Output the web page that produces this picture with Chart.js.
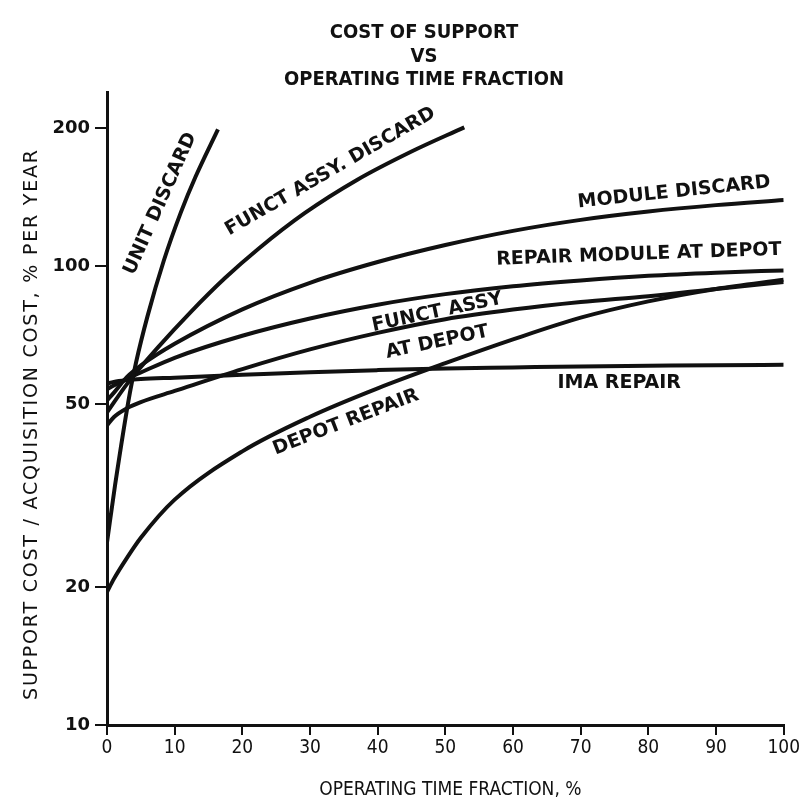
<!DOCTYPE html>
<html>
<head>
<meta charset="utf-8">
<title>Cost of Support vs Operating Time Fraction</title>
<script src="https://cdn.jsdelivr.net/npm/chart.js@4.4.0/dist/chart.umd.min.js"></script>
<style>
  html, body { margin: 0; padding: 0; background: #fff; }
  #wrap { width: 802px; height: 808px; }
</style>
</head>
<body>
<div id="wrap"><canvas id="supportChart" width="802" height="808"></canvas></div>
<script>
// operating time fraction (%) shared by the long curves
const opTime = [0, 1, 3, 5, 10, 20, 30, 40, 50, 60, 70, 80, 90, 100];

const moduleDiscard  = [51, 53, 57.5, 60.8, 67.8, 80.6, 92.1, 102.2, 111.3, 119.5, 126.3, 131.7, 136, 139.5];
const repairModule   = [54, 55, 56.9, 58.7, 63.2, 70.6, 77, 82.5, 87, 90.5, 93.2, 95.4, 96.9, 98];
const functAssyDepot = [45, 46.9, 49.1, 50.6, 53.5, 59.7, 65.9, 71.6, 76.7, 80.5, 83.6, 86.1, 89.3, 92.5];
const imaRepair      = [55.5, 56, 56.5, 56.8, 57.2, 58, 58.8, 59.4, 59.9, 60.2, 60.5, 60.7, 60.9, 61];
const depotRepair    = [19.5, 20.8, 23.2, 25.6, 31, 39.5, 47, 54.2, 61.5, 69.3, 77.3, 83.9, 89.3, 93.5];

// the two discard curves stop early, so they get their own x values
const unitDiscardX  = [0, 1.2, 3.4, 4.3, 6, 8.4, 10.9, 13.1, 16.4];
const unitDiscard   = [25, 33.4, 53.2, 61.8, 78, 103, 131, 157, 199];
const functDiscardX = [0, 3, 7.5, 12.4, 17.4, 22.3, 29.2, 37, 45, 52.8];
const functDiscard  = [48, 55.5, 66.5, 79.6, 94.2, 109, 130.6, 154.5, 178, 201];

const yTicks = [10, 20, 50, 100, 200];

// text written along the curves (anchored in data units)
const curveLabels = [
  { text: 'UNIT DISCARD', x: 7.9, y: 137, angle: -66 },
  { text: 'FUNCT ASSY. DISCARD', x: 33, y: 161, angle: -30 },
  { text: 'MODULE DISCARD', x: 83.8, y: 145, angle: -6 },
  { text: 'REPAIR MODULE AT DEPOT', x: 78.6, y: 106, angle: -2 },
  { text: 'FUNCT ASSY', x: 48.8, y: 79.4, angle: -12 },
  { text: 'AT DEPOT', x: 48.8, y: 68.3, angle: -12 },
  { text: 'IMA REPAIR', x: 75.7, y: 55.6, angle: 0 },
  { text: 'DEPOT REPAIR', x: 35.3, y: 45.7, angle: -21 }
];

const titleLines = ['COST OF SUPPORT', 'VS', 'OPERATING TIME FRACTION'];
const xTitle = 'OPERATING TIME FRACTION, %';
const yTitle = 'SUPPORT COST / ACQUISITION COST, % PER YEAR';

function pts(xs, ys) {
  return xs.map((x, i) => ({ x: x, y: ys[i] }));
}

function curve(label, xs, ys) {
  return {
    label: label,
    data: pts(xs, ys),
    borderColor: '#111',
    borderWidth: 4,
    pointRadius: 0,
    fill: false,
    cubicInterpolationMode: 'monotone'
  };
}

// spread a string so it fills a given length
function spacedText(ctx, text, x, y, length) {
  ctx.letterSpacing = '0px';
  const w = ctx.measureText(text).width;
  const gap = Math.max(0, (length - w) / (text.length - 1));
  ctx.letterSpacing = gap.toFixed(2) + 'px';
  ctx.fillText(text, x + gap / 2, y);
  ctx.letterSpacing = '0px';
}

const textPlugin = {
  id: 'textPlugin',
  afterDraw(chart) {
    const ctx = chart.ctx;
    const xs = chart.scales.x;
    const ys = chart.scales.y;
    const area = chart.chartArea;
    ctx.save();
    ctx.fillStyle = '#111';
    ctx.textAlign = 'center';
    ctx.textBaseline = 'middle';

    ctx.font = "bold 20px 'DejaVu Sans Condensed', 'DejaVu Sans'";
    titleLines.forEach((t, i) => ctx.fillText(t, 424, 33 + i * 23.5));

    ctx.font = "19px 'DejaVu Sans Condensed', 'DejaVu Sans'";
    ctx.fillText(xTitle, (area.left + area.right) / 2 + 5, 790);

    ctx.save();
    ctx.translate(32, 425);
    ctx.rotate(-Math.PI / 2);
    ctx.font = "19px 'DejaVu Sans'";
    spacedText(ctx, yTitle, 0, 0, 550);
    ctx.restore();

    ctx.font = "bold 19px 'DejaVu Sans'";
    curveLabels.forEach(l => {
      ctx.save();
      ctx.translate(xs.getPixelForValue(l.x), ys.getPixelForValue(l.y));
      ctx.rotate(l.angle * Math.PI / 180);
      ctx.fillText(l.text, 0, 0);
      ctx.restore();
    });
    ctx.restore();
  }
};

const chart = new Chart(document.getElementById('supportChart').getContext('2d'), {
  type: 'line',
  data: {
    datasets: [
      curve('Unit discard', unitDiscardX, unitDiscard),
      curve('Funct assy discard', functDiscardX, functDiscard),
      curve('Module discard', opTime, moduleDiscard),
      curve('Repair module at depot', opTime, repairModule),
      curve('Funct assy at depot', opTime, functAssyDepot),
      curve('IMA repair', opTime, imaRepair),
      curve('Depot repair', opTime, depotRepair)
    ]
  },
  options: {
    responsive: false,
    animation: false,
    layout: { padding: { top: 92, right: 17, bottom: 0, left: 0 } },
    plugins: {
      legend: { display: false },
      tooltip: { enabled: false },
      title: { display: false }
    },
    scales: {
      x: {
        type: 'linear',
        min: 0,
        max: 100,
        afterFit: s => { s.height = 83; },
        border: { display: true, color: '#111', width: 3 },
        grid: { drawOnChartArea: false, color: '#111', lineWidth: 2, tickLength: 10 },
        ticks: {
          stepSize: 10,
          autoSkip: false,
          maxRotation: 0,
          padding: 2,
          color: '#111',
          font: { family: "'DejaVu Sans Condensed', 'DejaVu Sans'", size: 19 }
        }
      },
      y: {
        type: 'logarithmic',
        min: 10,
        max: 240,
        afterFit: s => { s.width = 107; },
        afterBuildTicks: s => { s.ticks = yTicks.map(v => ({ value: v })); },
        border: { display: true, color: '#111', width: 3 },
        grid: { drawOnChartArea: false, color: '#111', lineWidth: 2, tickLength: 12 },
        ticks: {
          padding: 5,
          color: '#111',
          font: { family: "'DejaVu Sans'", size: 18, weight: 'bold' },
          callback: v => String(v)
        }
      }
    }
  },
  plugins: [textPlugin]
});
</script>
</body>
</html>
